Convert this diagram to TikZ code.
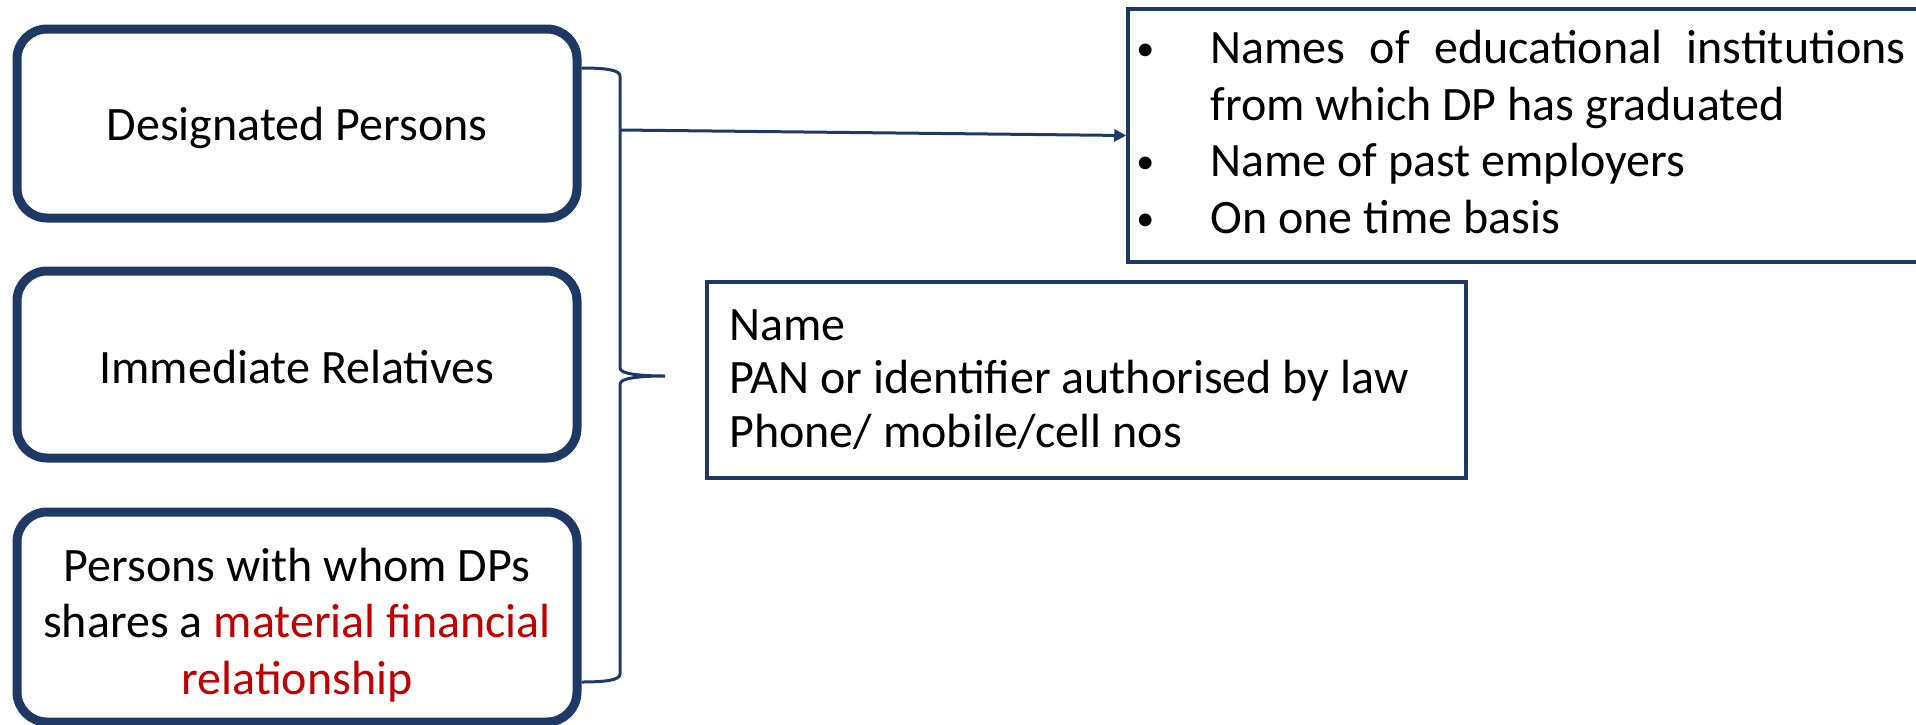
\documentclass[tikz,border=0pt]{standalone}
\usepackage{fontspec}
\setmainfont{Carlito}
\usetikzlibrary{arrows.meta}
\definecolor{navy}{RGB}{31,56,100}
\definecolor{accentred}{RGB}{192,0,0}
\newcommand{\bul}{\makebox[37pt][l]{\fontsize{18}{18}\selectfont\raisebox{1.5pt}{•}}}
\begin{document}
\begin{tikzpicture}[x=0.5pt,y=-0.5pt,
  roundbox/.style={draw=navy, line width=4.5pt, rounded corners=15pt,
    minimum width=280pt, inner sep=0pt},
  plainbox/.style={draw=navy, line width=1.75pt, inner sep=0pt},
  txt/.style={font=\fontsize{24}{28.2}\selectfont, inner sep=0pt},
  link/.style={draw=navy, line width=1.5pt},
]
\clip (0,0) rectangle (1916,724);

% the three categories of persons
\node[roundbox, minimum height=94.5pt] (dp) at (297,123.5) {};
\node[roundbox, minimum height=93.5pt] (ir) at (297,364.5) {};
\node[roundbox, minimum height=105pt]  (fin) at (297,617) {};

% single-line texts sit on their baseline; multi-line ones on their last baseline
\node[txt, anchor=base] (dptext) at (297,140) {Designated Persons};
\node[txt, anchor=base] (irtext) at (297,383) {Immediate Relatives};
\node[txt, anchor=base, align=center] (fintext) at (297,694)
  {Persons with whom DPs\\shares a \textcolor{accentred}{material financial}\\
   \textcolor{accentred}{relationship}};

% details required for DPs only
\node[plainbox, minimum width=401pt, minimum height=126.5pt] (info) at (1529,135.5) {};
\node[txt, anchor=base west, align=left] (infotext) at (1136,233)
  {\bul\makebox[347.5pt][s]{Names of educational institutions}\\
   \hspace*{37pt}from which DP has graduated\\
   \bul Name of past employers\\
   \bul On one time basis};

% details required for everyone
\node[plainbox, minimum width=379.5pt, minimum height=98pt] (id) at (1086.5,380) {};
\node[txt, anchor=base west, align=left, font=\fontsize{24}{26.75}\selectfont]
  (idtext) at (729,447)
  {Name\\PAN or identifier authorised by law\\Phone/ mobile/cell nos};

% brace grouping the three boxes
\coordinate (btop) at (0,68);
\coordinate (bbot) at (0,682);
\coordinate (bracetip) at (665,376);
\coordinate (armstart) at (620,130);
\draw[link] (dp.east |- btop) .. controls (606,68) and (620,70) .. (620,76)
  -- (620,368) .. controls (620,374) and (640,376) .. (bracetip)
  .. controls (640,376) and (620,378) .. (620,384)
  -- (620,674) .. controls (620,680) and (606,682) .. (fin.east |- bbot);

% arrow from the brace to the DP details
\draw[link, -{Triangle[length=6pt,width=6pt]}] (armstart) -- (info.west);
\end{tikzpicture}
\end{document}
